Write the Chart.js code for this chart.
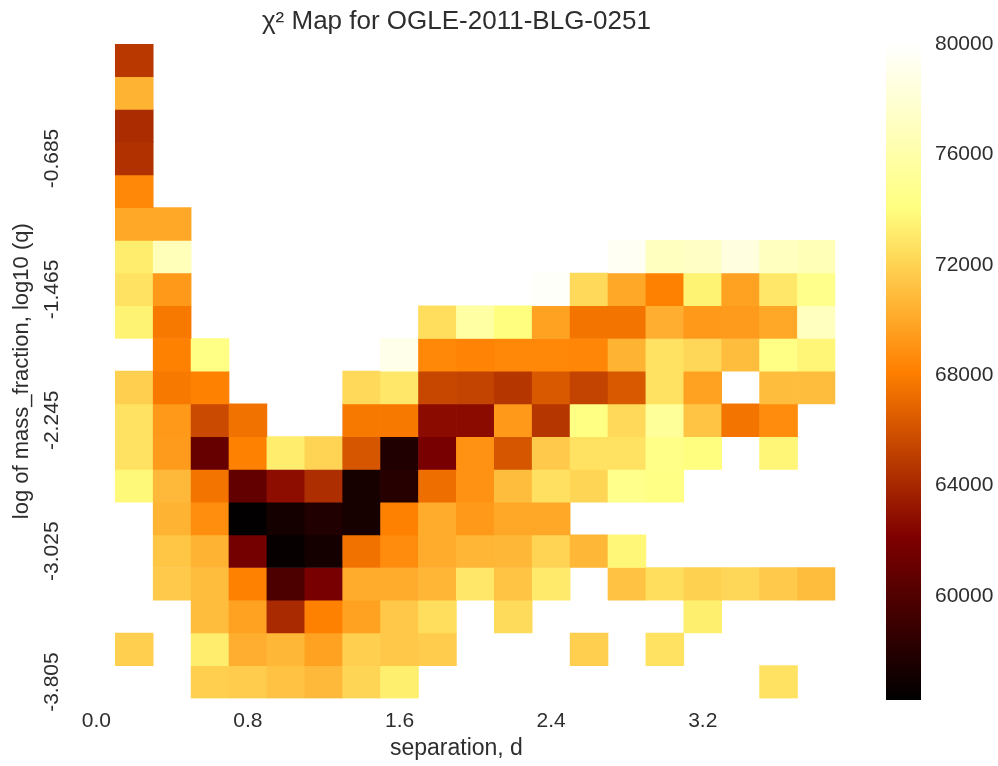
<!DOCTYPE html>
<html>
<head>
<meta charset="utf-8">
<script src="https://cdn.jsdelivr.net/npm/chart.js@4.4.1/dist/chart.umd.min.js"></script>
<style>
  html, body { margin: 0; padding: 0; background: #ffffff; }
  #wrap { position: relative; width: 998px; height: 766px; overflow: hidden; }
  #main { position: absolute; left: 0; top: 0; }
  #cbar { position: absolute; left: 840px; top: 0; }
</style>
</head>
<body>
<div id="wrap">
  <canvas id="main" width="998" height="766"></canvas>
  <canvas id="cbar" width="158" height="766"></canvas>
</div>
<script>
// ---------------- DATA ----------------
const separation = ['0.0','0.2','0.4','0.6','0.8','1.0','1.2','1.4','1.6','1.8',
                    '2.0','2.2','2.4','2.6','2.8','3.0','3.2','3.4','3.6','3.8'];
const logQ = [-0.100, -0.295, -0.490, -0.685, -0.880, -1.075, -1.270, -1.465, -1.660, -1.855,
              -2.050, -2.245, -2.440, -2.635, -2.830, -3.025, -3.220, -3.415, -3.610, -3.805];
const xTickLabels = ['0.0', '0.8', '1.6', '2.4', '3.2'];
const yTickLabels = ['-0.685', '-1.465', '-2.245', '-3.025', '-3.805'];
const colorbarTicks = [60000, 64000, 68000, 72000, 76000, 80000];
const colorbarRange = [56230, 80000];

const _ = null;
// chi^2 values, one array per log(q) row (top row first), one entry per separation column
const chi2_row00 = [_,64800,_,_,_,_,_,_,_,_,_,_,_,_,_,_,_,_,_,_];
const chi2_row01 = [_,70500,_,_,_,_,_,_,_,_,_,_,_,_,_,_,_,_,_,_];
const chi2_row02 = [_,64200,_,_,_,_,_,_,_,_,_,_,_,_,_,_,_,_,_,_];
const chi2_row03 = [_,64500,_,_,_,_,_,_,_,_,_,_,_,_,_,_,_,_,_,_];
const chi2_row04 = [_,68500,_,_,_,_,_,_,_,_,_,_,_,_,_,_,_,_,_,_];
const chi2_row05 = [_,70000,70000,_,_,_,_,_,_,_,_,_,_,_,_,_,_,_,_,_];
const chi2_row06 = [_,73200,76800,_,_,_,_,_,_,_,_,_,_,_,79500,77000,77300,78500,77000,76700];
const chi2_row07 = [_,72700,69300,_,_,_,_,_,_,_,_,_,79700,72300,70000,68200,73500,69700,73000,74600];
const chi2_row08 = [_,73500,67800,_,_,_,_,_,_,72500,75700,74000,69700,67600,67600,70300,69300,69400,70000,77000];
const chi2_row09 = [_,_,68200,74300,_,_,_,_,79000,68500,68300,68500,68500,68400,70500,72700,72200,71000,74300,73600];
const chi2_row10 = [_,71800,67800,68200,_,_,_,72300,73000,65500,65300,64700,66300,65300,66300,72700,69700,_,71000,71000];
const chi2_row11 = [_,72700,69300,65600,67500,_,_,67800,67800,62700,62700,69300,64700,74200,72300,75300,71300,67600,68700,_];
const chi2_row12 = [_,72700,69400,61000,68200,73200,72000,66200,57700,61800,69000,66200,71600,72700,72700,74400,74000,_,73600,_];
const chi2_row13 = [_,73800,70800,67600,60800,62800,64300,57300,58000,67300,69000,71000,72600,72100,74600,74300,_,_,_,_];
const chi2_row14 = [_,_,70500,68800,56300,57200,57700,57300,68200,70200,69300,70000,70000,_,_,_,_,_,_,_];
const chi2_row15 = [_,_,71400,70500,61700,56500,57200,67500,68700,70200,70600,70700,72000,70700,73700,_,_,_,_,_];
const chi2_row16 = [_,_,71600,71000,68200,59800,61800,70200,70200,70600,73000,71300,73100,_,71200,72500,71900,72200,71600,71000];
const chi2_row17 = [_,_,_,71000,69700,64100,68200,69700,71500,72500,_,72400,_,_,_,_,73300,_,_,_];
const chi2_row18 = [_,71800,_,73200,70300,70700,69700,71800,71500,71700,_,_,_,71800,_,72700,_,_,_,_];
const chi2_row19 = [_,_,_,71800,71700,71200,70800,72100,73300,_,_,_,_,_,_,_,_,_,72700,_];

const chi2Rows = [chi2_row00, chi2_row01, chi2_row02, chi2_row03, chi2_row04,
                  chi2_row05, chi2_row06, chi2_row07, chi2_row08, chi2_row09,
                  chi2_row10, chi2_row11, chi2_row12, chi2_row13, chi2_row14,
                  chi2_row15, chi2_row16, chi2_row17, chi2_row18, chi2_row19];

// ---------------- STYLE ----------------
const FONT = '"Liberation Sans", Arial, Helvetica, sans-serif';
const TEXT = '#2e2e2e';

function afmhot(v) {
  let t = (v - colorbarRange[0]) / (colorbarRange[1] - colorbarRange[0]);
  t = Math.max(0, Math.min(1, t));
  const c = x => Math.round(255 * Math.max(0, Math.min(1, x)));
  return 'rgb(' + c(2 * t) + ',' + c(2 * t - 0.5) + ',' + c(2 * t - 1) + ')';
}

const halfStep = Math.abs(logQ[0] - logQ[1]) / 2;

const datasets = chi2Rows.map((row, r) => ({
  label: 'log q = ' + logQ[r],
  data: row.map(v => v === null ? null : [logQ[r] - halfStep, logQ[r] + halfStep]),
  backgroundColor: row.map(v => v === null ? 'rgba(0,0,0,0)' : afmhot(v)),
  borderWidth: 0,
  barPercentage: 1.0,
  categoryPercentage: 1.0,
  grouped: false
}));

const yTickPlugin = {
  id: 'rotatedYTicks',
  afterDraw(chart) {
    const s = chart.scales.y;
    const ctx = chart.ctx;
    ctx.save();
    ctx.font = '21px ' + FONT;
    ctx.fillStyle = TEXT;
    ctx.textAlign = 'center';
    ctx.textBaseline = 'middle';
    yTickLabels.forEach(lbl => {
      const y = s.getPixelForValue(parseFloat(lbl));
      ctx.save();
      ctx.translate(s.right - 25, y);
      ctx.rotate(-Math.PI / 2);
      ctx.fillText(lbl, 0, 0);
      ctx.restore();
    });
    ctx.restore();
  }
};

new Chart(document.getElementById('main'), {
  type: 'bar',
  data: { labels: separation, datasets },
  options: {
    responsive: false,
    animation: false,
    events: [],
    layout: { padding: { left: 0, right: 162.6, top: 0, bottom: 0 } },
    plugins: {
      legend: { display: false },
      tooltip: { enabled: false },
      title: {
        display: true,
        fullSize: false,
        text: 'χ² Map for OGLE-2011-BLG-0251',
        color: TEXT,
        font: { family: FONT, size: 26, weight: 'normal' },
        padding: { top: 6, bottom: 6.8 }
      }
    },
    scales: {
      x: {
        type: 'category',
        grid: { display: false, drawTicks: false },
        border: { display: false },
        ticks: {
          autoSkip: false, maxRotation: 0, minRotation: 0,
          color: TEXT, font: { family: FONT, size: 21 }, padding: 10,
          callback: function (val, idx) {
            const l = separation[idx];
            return xTickLabels.includes(l) ? l : '';
          }
        },
        title: {
          display: true, text: 'separation, d', color: TEXT,
          font: { family: FONT, size: 23 }, padding: { top: 0, bottom: 4 }
        },
        afterFit(scale) { scale.height = 67.6; }
      },
      y: {
        type: 'linear',
        min: logQ[logQ.length - 1] - halfStep,
        max: logQ[0] + halfStep,
        grid: { display: false, drawTicks: false },
        border: { display: false },
        ticks: { display: false },
        title: {
          display: true, text: 'log of mass_fraction, log10 (q)', color: TEXT,
          font: { family: FONT, size: 22 }, padding: { top: 9, bottom: 0 }
        },
        afterFit(scale) { scale.width = 77.4; }
      }
    }
  },
  plugins: [yTickPlugin]
});

// ---------------- COLORBAR ----------------
function cbGradient(context) {
  const chart = context.chart;
  const area = chart.chartArea;
  if (!area) return 'rgba(0,0,0,0)';
  const ys = chart.scales.y;
  const g = chart.ctx.createLinearGradient(0, ys.getPixelForValue(colorbarRange[0]), 0, ys.getPixelForValue(colorbarRange[1]));
  const n = 40;
  for (let i = 0; i <= n; i++) {
    const v = colorbarRange[0] + (colorbarRange[1] - colorbarRange[0]) * i / n;
    g.addColorStop(i / n, afmhot(v));
  }
  return g;
}

new Chart(document.getElementById('cbar'), {
  type: 'bar',
  data: {
    labels: ['chi2'],
    datasets: [{
      data: [colorbarRange],
      backgroundColor: cbGradient,
      borderWidth: 0,
      barPercentage: 1.0,
      categoryPercentage: 1.0
    }]
  },
  options: {
    responsive: false,
    animation: false,
    events: [],
    layout: { padding: { left: 46, right: 0, top: 44, bottom: 66 } },
    plugins: { legend: { display: false }, tooltip: { enabled: false }, title: { display: false } },
    scales: {
      x: { display: false },
      y: {
        type: 'linear',
        position: 'right',
        min: colorbarRange[0],
        max: colorbarRange[1],
        grid: { display: false, drawTicks: false },
        border: { display: false },
        afterBuildTicks(scale) { scale.ticks = colorbarTicks.map(v => ({ value: v })); },
        ticks: {
          color: TEXT, font: { family: FONT, size: 21 }, padding: 14,
          callback: v => String(v)
        },
        afterFit(scale) { scale.width = 77; }
      }
    }
  }
});
</script>
</body>
</html>
